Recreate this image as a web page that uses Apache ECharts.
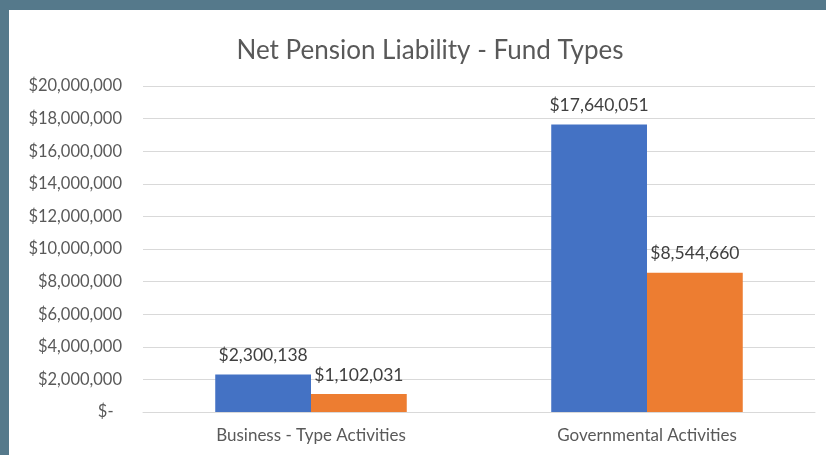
<!DOCTYPE html>
<html>
<head>
<meta charset="utf-8">
<script src="https://cdn.jsdelivr.net/npm/echarts@6/dist/echarts.min.js"></script>
<style>
  html, body { margin: 0; padding: 0; width: 826px; height: 455px; background: #55798b; overflow: hidden; }
  #chart { position: absolute; left: 9px; top: 10px; width: 817px; height: 445px; background: #fff; }
</style>
</head>
<body>
<div id="chart"></div>
<script>
const categories = ['Business - Type Activities', 'Governmental Activities'];
const seriesA = [2300138, 17640051];
const seriesB = [1102031, 8544660];
const yTicks = [0, 2000000, 4000000, 6000000, 8000000, 10000000, 12000000, 14000000, 16000000, 18000000, 20000000];

const font = 'Lato, "Open Sans", sans-serif';

function money(v) {
  if (v === 0) return '$-  ';
  return '$' + v.toLocaleString('en-US');
}

const labelStyle = {
  show: true, position: 'top', distance: 10,
  formatter: p => money(p.value),
  fontFamily: font, fontSize: 17.5, color: '#404040'
};

const chart = echarts.init(document.getElementById('chart'));
chart.setOption({
  animation: false,
  title: {
    text: 'Net Pension Liability - Fund Types',
    left: 416,
    textAlign: 'center',
    top: 23,
    textStyle: { fontFamily: font, fontSize: 26, fontWeight: 'normal', color: '#595959' }
  },
  grid: { left: 134, right: 11, top: 76, bottom: 43, containLabel: false },
  xAxis: {
    type: 'category',
    data: categories,
    axisLine: { lineStyle: { color: '#d9d9d9' } },
    axisTick: { show: false },
    axisLabel: { fontFamily: font, fontSize: 17, color: '#595959', margin: 15 }
  },
  yAxis: {
    type: 'value',
    min: yTicks[0],
    max: yTicks[yTicks.length - 1],
    interval: 2000000,
    axisLine: { show: false },
    axisTick: { show: false },
    splitLine: { lineStyle: { color: '#d9d9d9', width: 1 } },
    axisLabel: { fontFamily: font, fontSize: 16.5, color: '#595959', margin: 21, formatter: money }
  },
  series: [
    {
      type: 'bar',
      data: seriesA,
      barGap: '0%',
      barCategoryGap: '43%',
      itemStyle: { color: '#4472c4' },
      label: labelStyle
    },
    {
      type: 'bar',
      data: seriesB,
      itemStyle: { color: '#ed7d31' },
      label: labelStyle
    }
  ]
});
</script>
</body>
</html>
